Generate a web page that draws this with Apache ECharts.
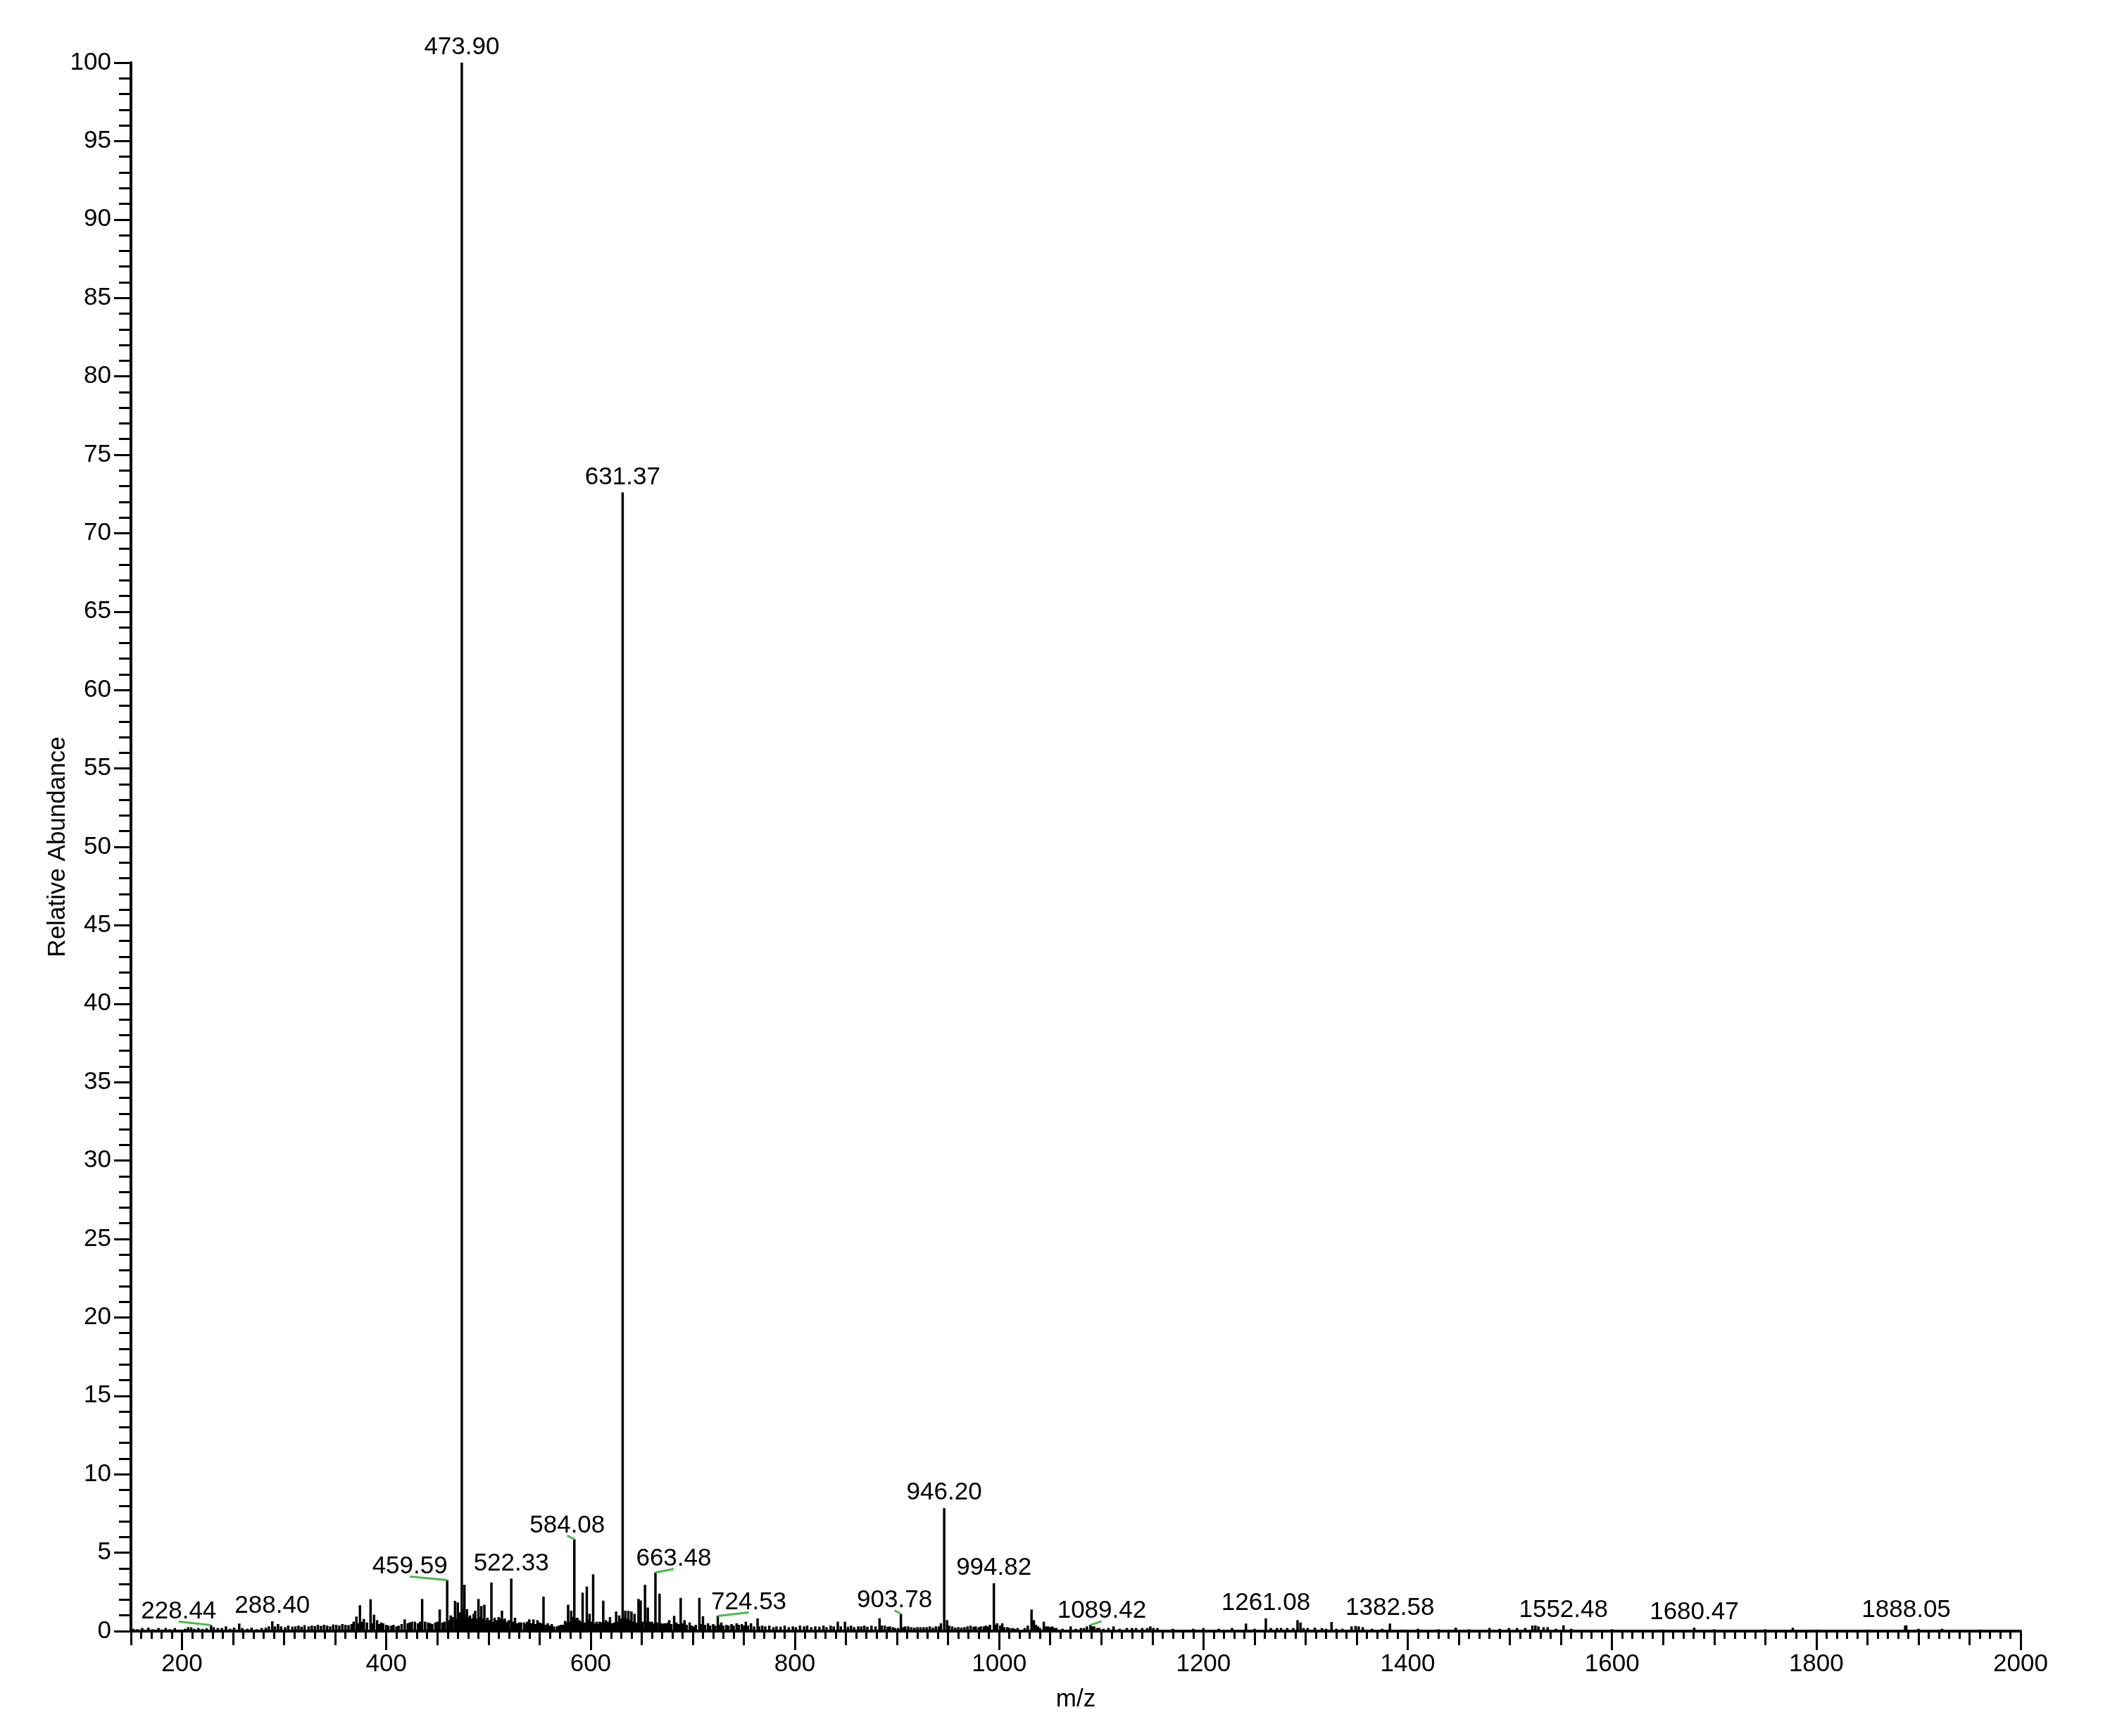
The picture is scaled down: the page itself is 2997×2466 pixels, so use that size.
<!DOCTYPE html>
<html>
<head>
<meta charset="utf-8">
<title>Mass spectrum</title>
<script src="https://cdn.jsdelivr.net/npm/echarts@6/dist/echarts.min.js"></script>
<style>
  html, body { margin: 0; padding: 0; background: #fff; }
  #chart { width: 2997px; height: 2466px; }
</style>
</head>
<body>
<div id="chart"></div>
<script>
// peaks with a printed m/z label: [m/z, relative abundance]
var labelledPeaks = [
  [228.44, 0.38], [288.40, 0.63], [459.59, 3.25], [473.90, 100], [522.33, 3.35],
  [584.08, 5.86], [631.37, 72.6], [663.48, 3.74], [724.53, 0.97], [903.78, 1.1],
  [946.20, 7.84], [994.82, 3.05], [1089.42, 0.4], [1261.08, 0.81], [1382.58, 0.48],
  [1552.48, 0.37], [1680.47, 0.22], [1888.05, 0.37]
]
// label nudge in px (0 = centred above the peak, otherwise a green leader is drawn)
var labelShift = [-46, 0, -53, 0, 0, -10, 0, 26, 44, -9, 0, 0, 16, 0, 0, 0, 0, 0]

// other visible peaks, no label
var otherPeaks = [
  [370.7, 0.93], [374.2, 1.65], [378, 0.78], [384.6, 2.03], [388, 1.05], [391, 0.7], [395, 0.55],
  [400, 0.4], [405, 0.35], [410, 0.3], [418, 0.75], [425, 0.6], [428, 0.6], [435.1, 2.05],
  [438, 0.6], [445, 0.45], [452.3, 1.38], [463, 1.0], [467.3, 1.93], [470, 1.83], [476.5, 2.95],
  [479, 1.4], [482, 1.0], [487, 1.3], [490.2, 2.05], [493, 1.6], [496, 1.68], [499, 0.85],
  [502.9, 3.1], [506, 0.85], [510, 0.9], [513.2, 1.3], [516, 0.8], [526, 0.85], [530, 0.55],
  [535, 0.55], [540, 0.75], [544, 0.75], [548, 0.7], [553.9, 2.2], [558, 0.5], [562, 0.45],
  [567, 0.3], [571, 0.4], [575, 0.65], [578, 1.68], [581, 1.3], [587, 0.85], [592.2, 2.45],
  [596.3, 2.84], [599, 1.1], [602.5, 3.62], [606, 0.6], [609, 0.6], [612.4, 1.94], [615, 0.7],
  [619, 0.9], [625, 1.25], [628, 1.0], [634, 1.3], [637, 1.3], [640, 1.25], [643, 1.1],
  [646.9, 2.05], [649, 1.95], [653.3, 2.95], [656, 1.5], [660, 0.6], [667.5, 2.39], [672, 0.5],
  [677, 0.7], [681.8, 0.97], [688.2, 2.12], [692, 0.7], [697, 0.55], [701, 0.3], [706.5, 2.12],
  [710, 0.95], [715, 0.5], [720, 0.45], [728, 0.55], [733, 0.4], [738, 0.45], [743, 0.5],
  [748, 0.45], [752, 0.6], [757, 0.5], [763.5, 0.81], [768, 0.35], [775, 0.35], [782, 0.3],
  [790, 0.35], [798, 0.3], [805, 0.35], [812, 0.35], [820, 0.3], [828, 0.35], [835, 0.35],
  [842, 0.6], [849, 0.6], [855, 0.35], [862, 0.3], [868, 0.35], [875, 0.35], [882.9, 0.82],
  [888, 0.35], [893, 0.3], [898, 0.2], [908, 0.3], [914, 0.25], [920, 0.25], [926, 0.25],
  [932, 0.3], [938, 0.3], [943, 0.5], [949, 0.7], [954, 0.3], [960, 0.25], [966, 0.25],
  [972, 0.35], [977, 0.3], [982, 0.3], [987, 0.35], [991, 0.4], [998, 0.5], [1003, 0.5],
  [1008, 0.25], [1013, 0.2], [1018, 0.2], [1028, 0.35], [1031.7, 1.38], [1034, 0.7], [1040, 0.2],
  [1043.7, 0.6], [1048, 0.3], [1052, 0.3], [1056, 0.2], [1070, 0.3], [1080, 0.2], [1086, 0.3],
  [1093, 0.3], [1098, 0.2], [1112, 0.3], [1125, 0.2], [1134, 0.2], [1140, 0.2], [1148, 0.3],
  [1155, 0.2], [1200, 0.2], [1228, 0.2], [1241.6, 0.48], [1266, 0.2], [1272, 0.2], [1276, 0.2],
  [1292.1, 0.7], [1295, 0.55], [1302, 0.2], [1309, 0.22], [1316, 0.2], [1325.4, 0.58],
  [1345, 0.3], [1349, 0.33], [1352, 0.3], [1356, 0.25], [1447, 0.22], [1480, 0.2], [1499, 0.2],
  [1507, 0.2], [1522, 0.35], [1525, 0.37], [1533, 0.25], [1537, 0.25], [1777, 0.22],
  [1887, 0.35], [1923, 0.15]
]

// grass along the baseline
var baselineNoise = [
  [152, 0.15], [156, 0.12], [161, 0.2], [167, 0.22], [171, 0.12], [177, 0.2], [180, 0.1],
  [184, 0.2], [188, 0.12], [193, 0.2], [197, 0.1], [203, 0.15], [206, 0.25], [209, 0.24],
  [212, 0.15], [216, 0.2], [220, 0.15], [224, 0.18], [231, 0.25], [235, 0.2], [239, 0.2],
  [243, 0.3], [247, 0.15], [251, 0.22], [256, 0.48], [259, 0.2], [264, 0.15], [268, 0.22],
  [273, 0.12], [278, 0.2], [282, 0.22], [285, 0.3], [291, 0.3], [294, 0.45], [297, 0.3],
  [301, 0.25], [304, 0.35], [308, 0.28], [311, 0.3], [314, 0.35], [317, 0.28], [320, 0.38],
  [324, 0.3], [327, 0.35], [330, 0.33], [333, 0.4], [336, 0.33], [339, 0.4], [342, 0.36],
  [345, 0.3], [348, 0.42], [351, 0.4], [354, 0.35], [357, 0.45], [360, 0.4], [363, 0.38],
  [366, 0.45], [368, 0.6], [372, 0.5], [376, 0.6], [381, 0.55], [386, 0.5], [393, 0.45],
  [397, 0.5], [402, 0.35], [407, 0.4], [412, 0.35], [415, 0.45], [421, 0.5], [423, 0.55],
  [431, 0.5], [433, 0.6], [441, 0.55], [443, 0.5], [448, 0.55], [450, 0.6], [455, 0.55],
  [457, 0.6], [461, 0.7], [465, 0.9], [468, 0.8], [472, 1.2], [475, 1.4], [477.5, 1.0],
  [481, 0.9], [484, 0.8], [485.5, 1.1], [489, 0.8], [492, 0.9], [495, 0.8], [498, 0.7],
  [501, 0.7], [504, 0.6], [508, 0.7], [512, 0.8], [515, 0.7], [518, 0.6], [520, 0.7],
  [524, 0.6], [528, 0.5], [532, 0.55], [537, 0.45], [538, 0.6], [542, 0.5], [546, 0.45],
  [550, 0.55], [552, 0.5], [556, 0.4], [560, 0.35], [564, 0.3], [569, 0.35], [573, 0.4],
  [577, 0.55], [580, 0.6], [583, 0.9], [586, 0.8], [589, 0.7], [591, 0.6], [594, 0.55],
  [598, 0.7], [601, 0.6], [604, 0.5], [608, 0.45], [611, 0.55], [614, 0.5], [617, 0.6],
  [621, 0.5], [623, 0.55], [627, 0.6], [630, 0.8], [633, 0.9], [636, 0.8], [639, 0.7],
  [642, 0.6], [645, 0.55], [648, 0.7], [651, 0.6], [655, 0.55], [658, 0.6], [662, 0.5],
  [665, 0.55], [669, 0.5], [671, 0.45], [674, 0.5], [676, 0.55], [679, 0.45], [684, 0.55],
  [686, 0.45], [690, 0.5], [694, 0.4], [699, 0.35], [703, 0.4], [708, 0.45], [712, 0.4],
  [717, 0.35], [722, 0.35], [726, 0.4], [730, 0.35], [735, 0.35], [740, 0.35], [745, 0.4],
  [750, 0.35], [754, 0.35], [760, 0.3], [765, 0.3], [771, 0.3], [779, 0.25], [786, 0.28],
  [794, 0.25], [801, 0.25], [809, 0.3], [816, 0.25], [824, 0.28], [831, 0.25], [838, 0.3],
  [845, 0.3], [852, 0.28], [858, 0.25], [865, 0.3], [871, 0.28], [879, 0.3], [885, 0.35],
  [891, 0.28], [896, 0.25], [901, 0.2], [906, 0.25], [911, 0.3], [917, 0.22], [923, 0.25],
  [929, 0.25], [935, 0.22], [941, 0.3], [951, 0.35], [957, 0.22], [963, 0.22], [969, 0.3],
  [975, 0.28], [980, 0.25], [985, 0.3], [989, 0.3], [996, 0.4], [1001, 0.35], [1005, 0.25],
  [1010, 0.2], [1015, 0.15], [1025, 0.2], [1036, 0.4], [1038, 0.3], [1046, 0.3], [1050, 0.25],
  [1054, 0.2], [1062, 0.15], [1075, 0.15], [1083, 0.2], [1091, 0.3], [1096, 0.2], [1102, 0.15],
  [1107, 0.2], [1118, 0.15], [1130, 0.2], [1145, 0.2], [1151, 0.2], [1170, 0.15], [1190, 0.15],
  [1215, 0.15], [1250, 0.15], [1282, 0.2], [1288, 0.2], [1298, 0.2], [1320, 0.15], [1330, 0.15],
  [1336, 0.15], [1365, 0.15], [1375, 0.15], [1395, 0.1], [1410, 0.15], [1430, 0.12],
  [1460, 0.12], [1490, 0.15], [1515, 0.2], [1528, 0.3], [1545, 0.15], [1560, 0.15],
  [1600, 0.12], [1650, 0.1], [1700, 0.12], [1750, 0.12], [1800, 0.1], [1850, 0.1],
  [1900, 0.15], [1960, 0.1]
]

// labelled x ticks
var xMajorTicks = [200, 400, 600, 800, 1000, 1200, 1400, 1600, 1800, 2000]

var FONT = '"Liberation Sans", Arial, sans-serif'
var FS = 35
var black = '#000'

var chart = echarts.init(document.getElementById('chart'))

var stems = labelledPeaks.concat(otherPeaks, baselineNoise)

var option = {
  backgroundColor: '#fff',
  animation: false,
  grid: { left: 186, right: 127, top: 89, bottom: 149 },
  xAxis: [
    {
      type: 'value',
      min: 150,
      max: 2000,
      position: 'bottom',
      name: 'm/z',
      nameLocation: 'middle',
      nameGap: 80,
      nameMoveOverlap: false,
      nameTextStyle: { fontSize: FS, fontFamily: FONT, color: black },
      axisLine: { lineStyle: { color: black, width: 4 } },
      axisTick: { customValues: xMajorTicks, length: 27, lineStyle: { color: black, width: 3 } },
      axisLabel: {
        customValues: xMajorTicks,
        margin: 30,
        fontSize: FS,
        fontFamily: FONT,
        color: black,
        formatter: function (v) { return String(v) }
      },
      splitLine: { show: false }
    },
    {
      // 50-step and 10-step ticks
      type: 'value',
      min: 150,
      max: 2000,
      interval: 50,
      position: 'bottom',
      axisLine: { show: false },
      axisTick: { length: 20, lineStyle: { color: black, width: 3 } },
      minorTick: { show: true, splitNumber: 5, length: 11, lineStyle: { color: black, width: 3 } },
      axisLabel: { show: false },
      splitLine: { show: false }
    }
  ],
  yAxis: {
    type: 'value',
    min: 0,
    max: 100,
    interval: 5,
    name: 'Relative Abundance',
    nameLocation: 'middle',
    nameGap: 86,
    nameMoveOverlap: false,
    nameRotate: 90,
    nameTextStyle: { fontSize: FS, fontFamily: FONT, color: black },
    axisLine: { show: true, lineStyle: { color: black, width: 4 } },
    axisTick: { show: true, length: 24, lineStyle: { color: black, width: 3 } },
    minorTick: { show: true, splitNumber: 5, length: 17, lineStyle: { color: black, width: 3 } },
    axisLabel: { margin: 28, fontSize: FS, fontFamily: FONT, color: black },
    splitLine: { show: false }
  },
  series: [
    {
      type: 'bar',
      xAxisIndex: 0,
      barWidth: 3.5,
      itemStyle: { color: black },
      data: stems
    },
    {
      type: 'custom',
      xAxisIndex: 0,
      clip: false,
      z: 5,
      data: labelledPeaks.map(function (p, i) { return [p[0], p[1], i] }),
      renderItem: function (params, api) {
        var i = api.value(2)
        var pt = api.coord([api.value(0), api.value(1)])
        var dx = labelShift[i]
        var gap = dx ? 7 : 9
        var kids = [{
          type: 'text',
          style: {
            text: labelledPeaks[i][0].toFixed(2),
            x: pt[0] + dx,
            y: pt[1] - gap + 5,
            align: 'center',
            verticalAlign: 'bottom',
            fontSize: FS,
            fontFamily: FONT,
            fill: black
          }
        }]
        if (dx) {
          kids.push({
            type: 'line',
            shape: { x1: pt[0] + dx, y1: pt[1] - gap + 2, x2: pt[0], y2: pt[1] },
            style: { stroke: '#4cb84a', lineWidth: 3 }
          })
        }
        return { type: 'group', children: kids }
      }
    }
  ]
}

chart.setOption(option)
</script>
</body>
</html>
